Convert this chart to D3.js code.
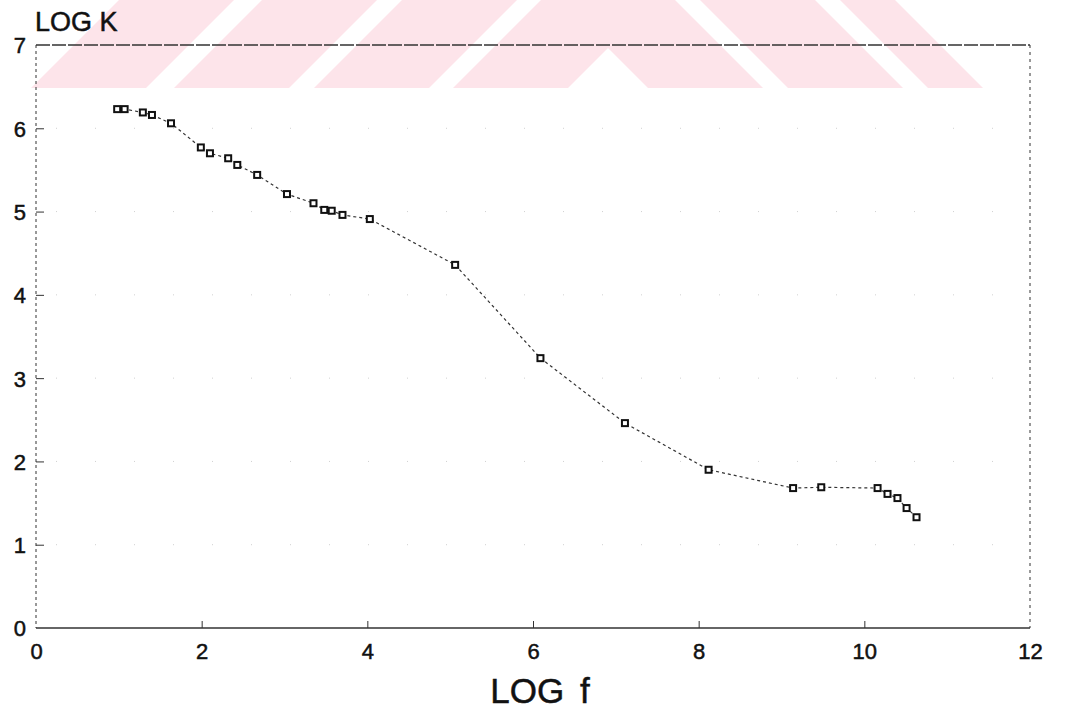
<!DOCTYPE html>
<html>
<head>
<meta charset="utf-8">
<script src="https://cdn.jsdelivr.net/npm/d3@7"></script>
<style>
    body { margin: 0; background: #fff; }
    svg { display: block; }
    text { font-family: "Liberation Sans", Arial, Helvetica, sans-serif; fill: #111; stroke: #111; stroke-width: 0.5px; }
</style>
</head>
<body>
<svg id="chart" width="1069" height="713"></svg>
<script>
// Messwerte: log f gegen log K
var logF = [0.98, 1.07, 1.29, 1.40, 1.63, 1.99, 2.10, 2.32, 2.43, 2.67,
            3.03, 3.35, 3.48, 3.57, 3.70, 4.03, 5.06, 6.09, 7.11, 8.12,
            9.14, 9.48, 10.16, 10.28, 10.40, 10.51, 10.63];
var logK = [6.23, 6.23, 6.19, 6.16, 6.06, 5.77, 5.70, 5.64, 5.56, 5.44,
            5.21, 5.10, 5.02, 5.01, 4.96, 4.91, 4.36, 3.24, 2.46, 1.90,
            1.68, 1.69, 1.68, 1.61, 1.56, 1.44, 1.33];
var xTicks = [0, 2, 4, 6, 8, 10, 12];
var yTicks = [0, 1, 2, 3, 4, 5, 6, 7];
var xLabel = "LOG f";
var yLabel = "LOG K";

var svg = d3.select("#chart"),
    plotLeft = 36,
    plotRight = 1030,
    plotTop = 45,
    plotBottom = 628;

var x = d3.scaleLinear().domain([0, 12]).range([plotLeft, plotRight]),
    y = d3.scaleLinear().domain([0, 7]).range([plotBottom, plotTop]);

// rosa Wasserzeichen oben (Scan-Artefakt)
var band = 88,
    pink = "#fde4ea",
    wm = svg.append("g");

[31, 174, 314, 453].forEach(function (xb) {
    wm.append("polygon")
        .attr("points", [[xb, band], [xb + 115, band], [xb + 115 + band, 0], [xb + band, 0]].join(" "))
        .attr("fill", pink);
});
[[560, 115], [700, 115], [840, 55]].forEach(function (s) {
    wm.append("polygon")
        .attr("points", [[s[0], 0], [s[0] + s[1], 0], [s[0] + s[1] + band, band], [s[0] + band, band]].join(" "))
        .attr("fill", pink);
});

// schwache Gitterlinien
svg.append("g")
    .selectAll("line")
    .data(yTicks.slice(1, -1))
    .enter()
    .append("line")
    .attr("x1", plotLeft + 20)
    .attr("x2", plotRight - 20)
    .attr("y1", function (d) { return y(d); })
    .attr("y2", function (d) { return y(d); })
    .attr("stroke", "#d0d0d0")
    .attr("stroke-width", 1)
    .attr("stroke-dasharray", "1,38");

// Rahmen
var frame = svg.append("g").attr("stroke", "#333").attr("fill", "none");

frame.append("line").attr("x1", plotLeft).attr("x2", plotRight).attr("y1", plotTop).attr("y2", plotTop)
    .attr("stroke-width", 1.3).attr("stroke-dasharray", "14,2");
frame.append("line").attr("x1", plotLeft).attr("x2", plotRight).attr("y1", plotBottom).attr("y2", plotBottom)
    .attr("stroke-width", 1.3);
frame.append("line").attr("x1", plotLeft).attr("x2", plotLeft).attr("y1", plotTop).attr("y2", plotBottom)
    .attr("stroke-width", 1).attr("stroke-dasharray", "3,3");
frame.append("line").attr("x1", plotRight).attr("x2", plotRight).attr("y1", plotTop).attr("y2", plotBottom)
    .attr("stroke-width", 1).attr("stroke-dasharray", "3,4");

// Achsen mit Ticks nach innen
var xAxis = d3.axisBottom(x).tickValues(xTicks).tickFormat(d3.format("d")).tickSize(-7).tickPadding(29),
    yAxis = d3.axisLeft(y).tickValues(yTicks).tickFormat(d3.format("d")).tickSize(-8).tickPadding(10);

var gx = svg.append("g").attr("transform", "translate(0," + plotBottom + ")").call(xAxis),
    gy = svg.append("g").attr("transform", "translate(" + plotLeft + ",0)").call(yAxis);

[gx, gy].forEach(function (g) {
    g.select(".domain").remove();
    g.selectAll(".tick line").attr("stroke", "#333").attr("stroke-width", 1);
    g.selectAll(".tick text").style("font-size", "22px").attr("fill", "#111");
});
gx.selectAll(".tick text").attr("dy", "0.1em");
gy.selectAll(".tick text").attr("dy", "0.36em");
gx.selectAll(".tick line").filter(function (d) { return d === 0 || d === 12; }).remove();
gy.selectAll(".tick line").filter(function (d) { return d === 0 || d === 7; }).remove();

// Beschriftungen
svg.append("text")
    .attr("x", 35)
    .attr("y", 31)
    .style("font-size", "27px")
    .text(yLabel);

svg.append("text")
    .attr("x", 540)
    .attr("y", 703)
    .attr("text-anchor", "middle")
    .style("font-size", "35px")
    .style("word-spacing", "6px")
    .text(xLabel);

// Kurve und Messpunkte
var points = logF.map(function (f, i) { return [f, logK[i]]; });

var line = d3.line()
    .x(function (d) { return x(d[0]); })
    .y(function (d) { return y(d[1]); });

svg.append("path")
    .datum(points)
    .attr("d", line)
    .attr("fill", "none")
    .attr("stroke", "#333")
    .attr("stroke-width", 1.2)
    .attr("stroke-dasharray", "3,3");

svg.append("g")
    .selectAll("rect")
    .data(points)
    .enter()
    .append("rect")
    .attr("x", function (d) { return x(d[0]) - 3; })
    .attr("y", function (d) { return y(d[1]) - 3; })
    .attr("width", 6)
    .attr("height", 6)
    .attr("fill", "#fff")
    .attr("stroke", "#111")
    .attr("stroke-width", 2);
</script>
</body>
</html>
